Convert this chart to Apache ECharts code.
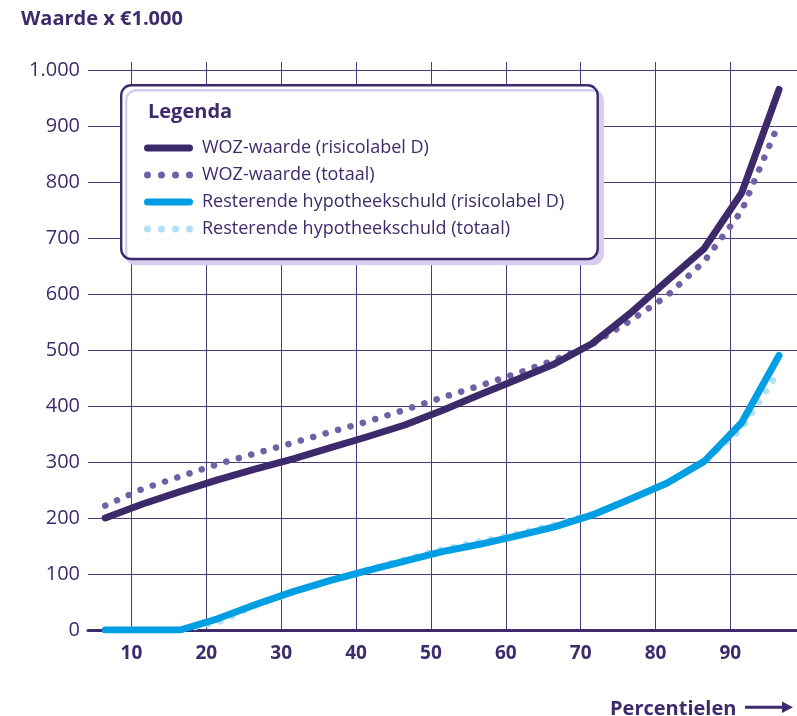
<!DOCTYPE html>
<html><head><meta charset="utf-8">
<script src="https://cdn.jsdelivr.net/npm/echarts@6/dist/echarts.min.js"></script>
<style>html,body{margin:0;padding:0;background:#fff}#c{width:797px;height:716px}</style>
</head><body><div id="c"></div>
<script>
const percentiles = [6.5, 11.5, 16.5, 21.5, 26.5, 31.5, 36.5, 41.5, 46.5, 51.5, 56.5, 61.5, 66.5, 71.5, 76.5, 81.5, 86.5, 91.5, 96.5];
const wozD      = [200, 225, 247, 268, 287, 305, 325, 345, 366, 392, 420, 447, 475, 511, 564, 623, 681, 780, 965];
const wozTotaal = [222, 252, 274, 296, 315, 334, 353, 372, 393, 415, 436, 458, 482, 510, 551, 596, 658, 748, 905];
const hypD      = [0, 0, 0, 20, 45, 68, 88, 106, 123, 140, 153, 168, 184, 205, 233, 262, 301, 370, 490];
const hypTotaal = [0, 0, 0, 13, 43, 67, 88, 107, 126, 144, 158, 172, 188, 207, 233, 261, 300, 359, 462];
const names = ['WOZ-waarde (risicolabel D)', 'WOZ-waarde (totaal)', 'Resterende hypotheekschuld (risicolabel D)', 'Resterende hypotheekschuld (totaal)'];
const titleText = 'Waarde x €1.000';
const legendTitle = 'Legenda';
const xName = 'Percentielen';

const C = {
  text: '#3d2b6b', grid: '#4a3a7c', wozD: '#3d2a6b', wozT: '#7060a6', hypD: '#009fe3', hypT: '#b3e0f6', shadow: '#d6cdef'
};
const FONT = 'Open Sans';
const pair = (xs, ys) => xs.map((x, i) => [x, ys[i]]);
const barIcon = 'path://M3.5,0H45.5A3.5,3.5 0 0 1 45.5,7H3.5A3.5,3.5 0 0 1 3.5,0Z';
const dotIcon = 'path://' + [3.5, 17.5, 31.5, 45.5].map(c =>
  `M${c-3.5},3.5A3.5,3.5 0 1 1 ${c+3.5},3.5A3.5,3.5 0 1 1 ${c-3.5},3.5Z`).join('');

function lineSeries(name, ys, color, dotted, z) {
  return {
    name, type: 'line', data: pair(percentiles, ys), symbol: 'none', z,
    color,
    lineStyle: dotted
      ? { color, width: 6.5, type: [0.1, 12.8], cap: 'round', join: 'round' }
      : { color, width: 7, cap: 'round', join: 'round' },
    emphasis: { disabled: true }, animation: false
  };
}

const chart = echarts.init(document.getElementById('c'), null, { renderer: 'canvas' });
chart.setOption({
  animation: false,
  backgroundColor: '#fff',
  title: {
    text: titleText, left: 21, top: 9, padding: 0,
    textStyle: { fontFamily: FONT, fontWeight: 'bold', fontSize: 20, color: C.text }
  },
  grid: { left: 88, right: 0, top: 62, bottom: 86, containLabel: false },
  xAxis: {
    type: 'value', min: 4.2, max: 98.9, splitNumber: 10, minInterval: 10, maxInterval: 10,
    axisLine: { show: true, lineStyle: { color: C.wozD, width: 3 } },
    axisTick: { show: false },
    axisLabel: { showMinLabel: false, showMaxLabel: false, margin: 14,
      fontFamily: FONT, fontWeight: 'bold', fontSize: 19, color: C.text },
    splitLine: { show: true, showMinLine: false, showMaxLine: false, lineStyle: { color: C.grid, width: 1 } }
  },
  yAxis: {
    type: 'value', min: 0, max: 1014, splitNumber: 10, minInterval: 100, maxInterval: 100,
    axisLine: { show: false }, axisTick: { show: false },
    axisLabel: { showMaxLabel: false, margin: 8, fontFamily: FONT, fontSize: 20, color: C.text,
      formatter: v => String(v).replace(/\B(?=(\d{3})+(?!\d))/g, '.') },
    splitLine: { show: true, showMaxLine: false, lineStyle: { color: C.grid, width: 1 } }
  },
  legend: {
    orient: 'vertical', left: 144, top: 139, padding: 0, itemGap: 9,
    itemWidth: 49, itemHeight: 7, selectedMode: false, z: 12,
    itemStyle: { borderWidth: 0 },
    textStyle: { fontFamily: FONT, fontSize: 18, lineHeight: 18, color: C.text, padding: [0, 0, 0, 4] },
    data: [
      { name: names[0], icon: barIcon },
      { name: names[1], icon: dotIcon },
      { name: names[2], icon: barIcon },
      { name: names[3], icon: dotIcon }
    ]
  },
  graphic: { elements: [
    { type: 'rect', z: 10, shape: { x: 121.2, y: 85.3, width: 476.5, height: 173.7, r: 10 },
      style: { fill: '#fff', stroke: C.text, lineWidth: 2.4, shadowColor: C.shadow, shadowOffsetX: 5, shadowOffsetY: 5, shadowBlur: 0 } },
    { type: 'text', z: 11, left: 148, top: 102,
      style: { text: legendTitle, fontFamily: FONT, fontWeight: 'bold', fontSize: 20, fill: C.text } },
    { type: 'text', z: 11, left: 610, top: 699,
      style: { text: xName, fontFamily: FONT, fontWeight: 'bold', fontSize: 20, fill: C.text } },
    { type: 'line', z: 11, shape: { x1: 745, y1: 707.3, x2: 785, y2: 707.3 }, style: { stroke: C.text, lineWidth: 3 } },
    { type: 'polygon', z: 11, shape: { points: [[782, 701.5], [793, 707.3], [782, 713]] }, style: { fill: C.text } }
  ]},
  series: [
    lineSeries(names[0], wozD, C.wozD, false, 4),
    lineSeries(names[1], wozTotaal, C.wozT, true, 3),
    lineSeries(names[2], hypD, C.hypD, false, 4),
    lineSeries(names[3], hypTotaal, C.hypT, true, 3)
  ]
});
</script></body></html>
